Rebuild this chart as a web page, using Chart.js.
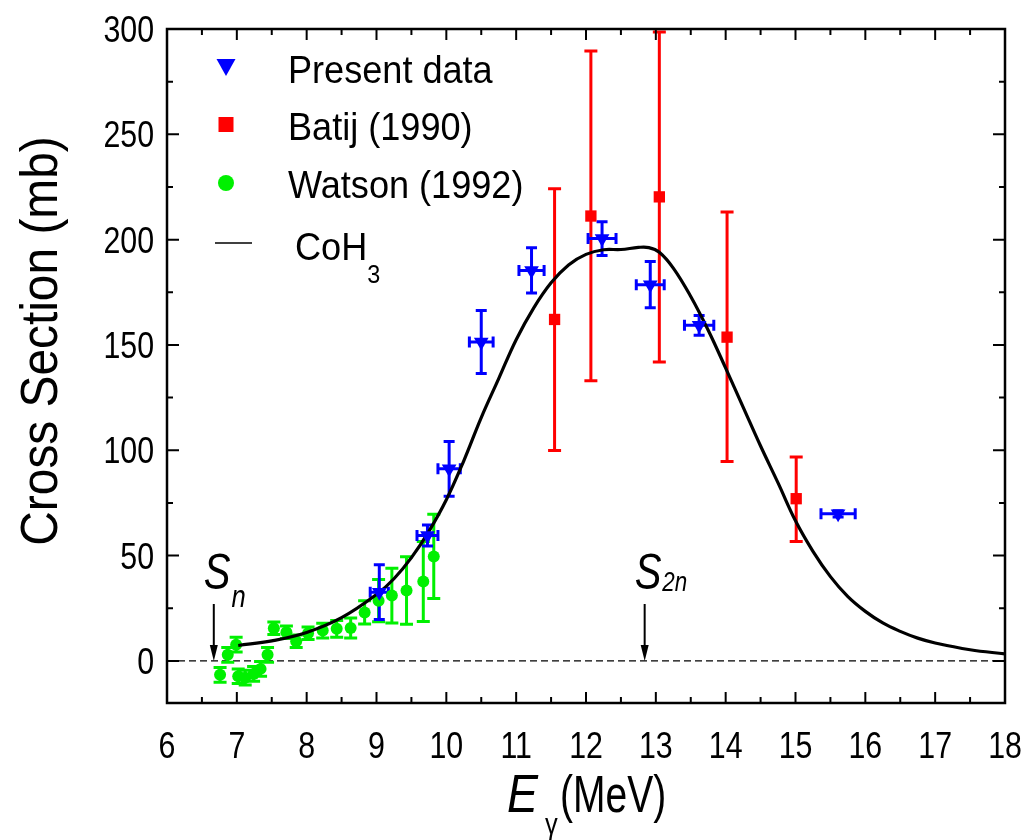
<!DOCTYPE html>
<html><head><meta charset="utf-8">
<script src="https://cdn.jsdelivr.net/npm/chart.js@4.4.1/dist/chart.umd.min.js"></script>
<style>html,body{margin:0;padding:0;background:#fff;overflow:hidden}canvas{display:block}</style>
</head><body>
<canvas id="c" width="1025" height="840"></canvas>
<script>
// ---- data ----
const presentE   = [9.04, 9.73, 10.04, 10.50, 11.22, 12.23, 12.92, 13.62, 15.61];
const presentXS  = [32.6, 59.5, 91.2, 151.4, 185.4, 200.5, 178.6, 159.3, 69.8];
const presentErrY= [13, 5, 13, 15, 10.7, 8, 11, 4.7, 1.5];
const presentErrE= [0.13, 0.15, 0.16, 0.17, 0.18, 0.20, 0.20, 0.21, 0.245];

const batijE    = [11.55, 12.07, 13.05, 14.02, 15.01];
const batijXS   = [162.1, 211.2, 220.3, 153.7, 77.0];
const batijLow  = [99.9, 133.0, 141.9, 94.7, 56.7];
const batijHigh = [224.2, 289.6, 298.6, 213.1, 96.8];

const watsonE   = [6.76, 6.87, 6.99, 7.02, 7.12, 7.24, 7.34, 7.44, 7.53, 7.71, 7.85, 8.02, 8.23, 8.43, 8.63, 8.83, 9.03, 9.22, 9.43, 9.67, 9.82];
const watsonXS  = [-6.6, 2.9, 7.7, -7.3, -8.0, -6.2, -3.8, 2.9, 15.5, 13.6, 9.3, 13.1, 14.4, 15.2, 15.6, 23.0, 28.6, 31.0, 33.4, 37.7, 49.6];
const watsonErr = [3.5, 3.5, 3.5, 3.5, 3.5, 3.5, 3.5, 3.5, 3, 3, 3, 3, 3.5, 4, 4.7, 5.5, 10, 13, 16, 19, 20];

const cohE  = [7.02, 7.5, 8.0, 8.5, 9.0, 9.25, 9.5, 9.75, 10.0, 10.25, 10.5, 10.75, 11.0, 11.25, 11.5, 11.75, 12.0, 12.25, 12.5, 12.75, 12.9, 13.05, 13.25, 13.5, 13.75, 14.0, 14.25, 14.5, 14.75, 15.0, 15.25, 15.5, 15.75, 16.0, 16.25, 16.5, 16.75, 17.0, 17.5, 18.0];
const cohXS = [7.3, 9.5, 13.5, 20.5, 31.5, 39, 49, 61.5, 76.5, 95, 115.5, 134, 152.5, 167.5, 179.5, 188, 193, 195.2, 195.3, 196.3, 196.2, 194, 186.5, 173, 157, 139, 120.5, 102, 84.5, 66.5, 52, 40, 30.5, 23.5, 18, 14, 10.8, 8.5, 5.3, 3.3];

const seriesLabels = ['Present data', 'Batij (1990)', 'Watson (1992)', 'CoH'];
const xTickValues = [6,7,8,9,10,11,12,13,14,15,16,17,18];
const yTickValues = [0,50,100,150,200,250,300];
const thresholds = [{label:'S', sub:'n', e:6.67}, {label:'S', sub:'2n', e:12.84}];

const BLUE='#0000ff', RED='#ff0000', GREEN='#00f000';
const FONT='"Liberation Sans", Arial, sans-serif';

function txt(ctx, s, x, y, size, o={}) {
  ctx.save();
  ctx.translate(x, y);
  if (o.rot) ctx.rotate(o.rot);
  const sx = o.sx || 0.8;
  ctx.scale(sx, 1);
  ctx.font = (o.italic ? 'italic ' : '') + size + 'px ' + FONT;
  ctx.textAlign = o.align || 'left';
  ctx.textBaseline = o.baseline || 'alphabetic';
  ctx.fillStyle = '#000';
  ctx.fillText(s, 0, 0);
  const w = ctx.measureText(s).width * sx;
  ctx.restore();
  return w;
}

const decor = {
  id: 'decor',
  beforeDatasetsDraw(chart) {
    const ctx = chart.ctx, xs = chart.scales.x, ys = chart.scales.y, a = chart.chartArea;
    ctx.save();
    ctx.strokeStyle = '#000'; ctx.lineWidth = 1.3; ctx.setLineDash([7,4]);
    ctx.beginPath(); ctx.moveTo(a.left, ys.getPixelForValue(0)); ctx.lineTo(a.right, ys.getPixelForValue(0)); ctx.stroke();
    ctx.setLineDash([]);
    const vbar = (px, y1, y2, cap, col, lw) => {
      ctx.strokeStyle = col; ctx.lineWidth = lw;
      ctx.beginPath();
      ctx.moveTo(px, y1); ctx.lineTo(px, y2);
      ctx.moveTo(px-cap, y1); ctx.lineTo(px+cap, y1);
      ctx.moveTo(px-cap, y2); ctx.lineTo(px+cap, y2);
      ctx.stroke();
    };
    const hbar = (py, x1, x2, cap, col, lw) => {
      ctx.strokeStyle = col; ctx.lineWidth = lw;
      ctx.beginPath();
      ctx.moveTo(x1, py); ctx.lineTo(x2, py);
      ctx.moveTo(x1, py-cap); ctx.lineTo(x1, py+cap);
      ctx.moveTo(x2, py-cap); ctx.lineTo(x2, py+cap);
      ctx.stroke();
    };
    watsonE.forEach((e,i)=>{
      const px = xs.getPixelForValue(e);
      vbar(px, ys.getPixelForValue(watsonXS[i]+watsonErr[i]), ys.getPixelForValue(watsonXS[i]-watsonErr[i]), 6.5, GREEN, 3);
    });
    batijE.forEach((e,i)=>{
      const px = xs.getPixelForValue(e);
      vbar(px, ys.getPixelForValue(batijHigh[i]), ys.getPixelForValue(batijLow[i]), 6.5, RED, 3);
    });
    presentE.forEach((e,i)=>{
      const px = xs.getPixelForValue(e), py = ys.getPixelForValue(presentXS[i]);
      vbar(px, ys.getPixelForValue(presentXS[i]+presentErrY[i]), ys.getPixelForValue(presentXS[i]-presentErrY[i]), 5.5, BLUE, 3);
      hbar(py, xs.getPixelForValue(e-presentErrE[i]), xs.getPixelForValue(e+presentErrE[i]), 5.5, BLUE, 3);
    });
    ctx.restore();
  },
  afterDraw(chart) {
    const ctx = chart.ctx, xs = chart.scales.x, ys = chart.scales.y, a = chart.chartArea;
    ctx.save();
    ctx.strokeStyle = '#000'; ctx.fillStyle = '#000';
    ctx.lineWidth = 2.5;
    ctx.strokeRect(a.left, a.top, a.right - a.left, a.bottom - a.top);
    ctx.lineWidth = 2;
    ctx.beginPath();
    for (let v = 6; v <= 18.001; v += 0.5) {
      const px = xs.getPixelForValue(v);
      const L = Number.isInteger(v) ? 11 : 6;
      ctx.moveTo(px, a.bottom); ctx.lineTo(px, a.bottom - L);
      ctx.moveTo(px, a.top); ctx.lineTo(px, a.top + L);
    }
    for (let v = 0; v <= 300; v += 25) {
      const py = ys.getPixelForValue(v);
      const L = (v % 50 === 0) ? 12 : 6;
      ctx.moveTo(a.left, py); ctx.lineTo(a.left + L, py);
      ctx.moveTo(a.right, py); ctx.lineTo(a.right - L, py);
    }
    ctx.stroke();
    xTickValues.forEach(v => txt(ctx, String(v), xs.getPixelForValue(v), 758, 37, {align:'center', sx:0.82}));
    yTickValues.forEach(v => txt(ctx, String(v), 154, ys.getPixelForValue(v) + 13, 37, {align:'right', sx:0.82}));
    txt(ctx, 'Cross Section (mb)', 57, 341, 52, {align:'center', rot:-Math.PI/2, sx:0.92});
    txt(ctx, 'E', 507, 812, 54, {italic:true, sx:0.86});
    txt(ctx, 'γ', 545, 834, 30, {sx:0.85});
    txt(ctx, '(MeV)', 560, 812, 52, {sx:0.75});
    thresholds.forEach(t => {
      const px = xs.getPixelForValue(t.e);
      const yTop = ys.getPixelForValue(27), yBot = ys.getPixelForValue(0);
      ctx.lineWidth = 2;
      ctx.beginPath(); ctx.moveTo(px, yTop); ctx.lineTo(px, yBot - 12); ctx.stroke();
      ctx.beginPath(); ctx.moveTo(px - 4, yBot - 16); ctx.lineTo(px + 4, yBot - 16); ctx.lineTo(px, yBot); ctx.closePath(); ctx.fill();
      const sw = txt(ctx, t.label, px - 10, 589, 50, {italic:true, sx:0.8});
      if (t.sub === 'n') txt(ctx, t.sub, px - 10 + sw + 1, 607, 32, {italic:true, sx:0.8});
      else txt(ctx, t.sub, px - 10 + sw + 1, 591, 28, {italic:true, sx:0.8});
    });
    const lx = 226;
    ctx.fillStyle = BLUE;
    ctx.beginPath(); ctx.moveTo(lx - 9.5, 59); ctx.lineTo(lx + 9.5, 59); ctx.lineTo(lx, 76); ctx.closePath(); ctx.fill();
    ctx.fillStyle = RED; ctx.fillRect(lx - 7.5, 117, 15, 15);
    ctx.fillStyle = GREEN; ctx.beginPath(); ctx.arc(lx, 183, 8, 0, Math.PI*2); ctx.fill();
    ctx.strokeStyle = '#000'; ctx.lineWidth = 1.5;
    ctx.beginPath(); ctx.moveTo(215, 243); ctx.lineTo(252, 243); ctx.stroke();
    txt(ctx, seriesLabels[0], 288, 83, 38, {sx:0.95});
    txt(ctx, seriesLabels[1], 288, 140, 38, {sx:0.95});
    txt(ctx, seriesLabels[2], 288, 198, 38, {sx:0.95});
    const cw = txt(ctx, seriesLabels[3], 295, 260, 38, {sx:0.95});
    txt(ctx, '3', 295 + cw, 283, 26, {sx:0.9});
    ctx.restore();
  }
};

new Chart(document.getElementById('c'), {
  type: 'scatter',
  data: {
    datasets: [
      { label: seriesLabels[0], data: presentE.map((e,i)=>({x:e, y:presentXS[i]})),
        pointStyle: 'triangle', rotation: 180, pointRadius: 8.5, backgroundColor: BLUE, borderColor: BLUE, borderWidth: 0, order: 0 },
      { label: 'CoH3', type: 'line', data: cohE.map((e,i)=>({x:e, y:cohXS[i]})),
        borderColor: '#000', borderWidth: 3.2, pointRadius: 0, fill: false, tension: 0.4, order: 1 },
      { label: seriesLabels[1], data: batijE.map((e,i)=>({x:e, y:batijXS[i]})),
        pointStyle: 'rect', pointRadius: 8, backgroundColor: RED, borderColor: RED, borderWidth: 0, order: 2 },
      { label: seriesLabels[2], data: watsonE.map((e,i)=>({x:e, y:watsonXS[i]})),
        pointStyle: 'circle', pointRadius: 6, backgroundColor: GREEN, borderColor: GREEN, borderWidth: 0, order: 3 }
    ]
  },
  options: {
    responsive: false, animation: false, devicePixelRatio: 1,
    layout: { padding: { left: 167, top: 29, right: 20, bottom: 137 } },
    plugins: { legend: { display: false }, tooltip: { enabled: false } },
    scales: {
      x: { type: 'linear', min: 6, max: 18, grid: { display: false }, border: { display: false },
           ticks: { display: false }, afterFit(s) { s.height = 0; } },
      y: { type: 'linear', min: -20, max: 300, grid: { display: false }, border: { display: false },
           ticks: { display: false }, afterFit(s) { s.width = 0; } }
    }
  },
  plugins: [decor]
});
</script>
</body></html>
